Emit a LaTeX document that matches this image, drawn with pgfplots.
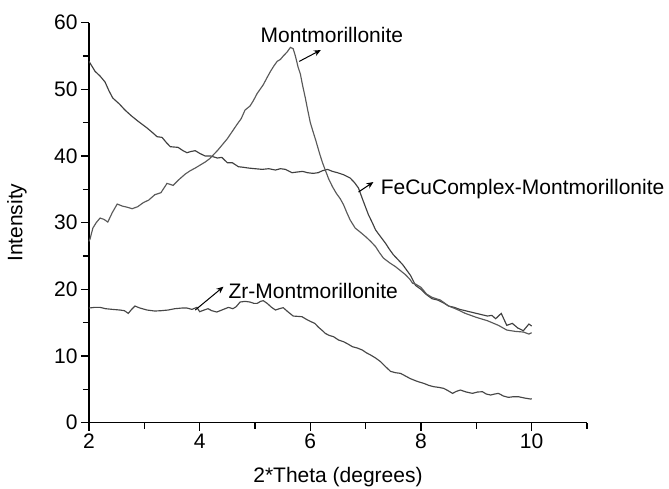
\documentclass[border=0pt]{standalone}
\usepackage{pgfplots}
\pgfplotsset{compat=1.18}
\usepackage{fontspec}
\setmainfont{Liberation Sans}
\usetikzlibrary{arrows.meta}

\newcommand{\chartfont}{\fontsize{21}{25}\selectfont}

\begin{document}
\begin{tikzpicture}
\useasboundingbox (-89pt,-65.3pt) rectangle (580pt,422.7pt);
\begin{axis}[
  at={(0,0)}, anchor=south west,
  width=498pt, height=400pt, scale only axis,
  xmin=2, xmax=11, ymin=0, ymax=60,
  axis x line*=bottom, axis y line*=left,
  axis line style={line width=1.3pt},
  xtick={2,4,6,8,10}, minor xtick={3,5,7,9,11},
  ytick={0,10,20,30,40,50,60}, minor ytick={5,15,25,35,45,55},
  tick align=outside,
  major tick length=8pt, minor tick length=6pt,
  every tick/.style={black, line width=1.2pt},
  tick label style={font=\chartfont},
  /pgf/number format/assume math mode=true,
  label style={font=\chartfont},
  xlabel={2*Theta (degrees)},
  ylabel={Intensity},
  xlabel style={at={(axis description cs:0.5,0)}, anchor=center, yshift=-54pt},
  ylabel style={at={(axis description cs:0,0.5)}, anchor=center, yshift=72pt},
  clip=false,
]
% FeCuComplex-Montmorillonite
\addplot[line width=1.15pt, color=black!75, no markers] coordinates {
(2.00,54.2) (2.11,52.7) (2.20,52.0) (2.29,51.1) (2.36,49.8) (2.43,48.7)
(2.55,47.8) (2.65,46.9) (2.77,46.0) (2.89,45.2) (3.05,44.2) (3.15,43.5)
(3.23,42.9) (3.32,42.8) (3.40,42.0) (3.47,41.4) (3.61,41.3) (3.70,40.8)
(3.77,40.5) (3.85,40.7) (3.92,40.8) (4.00,40.4) (4.10,40.0) (4.20,40.0)
(4.32,39.7) (4.40,39.8) (4.50,39.0) (4.59,39.0) (4.70,38.4) (4.80,38.3)
(4.88,38.2) (5.00,38.1) (5.13,38.0) (5.25,38.1) (5.37,37.9) (5.46,38.1)
(5.55,38.0) (5.67,37.5) (5.76,37.6) (5.86,37.7) (5.95,37.5) (6.05,37.4)
(6.14,37.5) (6.22,37.8) (6.31,38.0) (6.40,37.7) (6.49,37.5) (6.60,37.2)
(6.72,36.7) (6.80,36.0) (6.87,35.2) (6.94,33.6) (7.05,31.2) (7.12,30.0)
(7.18,28.9) (7.27,27.9) (7.36,26.9) (7.43,26.0) (7.50,25.2) (7.58,24.5)
(7.67,23.7) (7.74,22.9) (7.81,22.1) (7.90,20.6) (8.00,20.0) (8.10,19.2)
(8.20,18.6) (8.30,18.4) (8.40,18.0) (8.50,17.5) (8.60,17.3) (8.70,17.0)
(8.80,16.8) (8.90,16.6) (9.00,16.4) (9.10,16.2) (9.20,16.0) (9.28,16.1)
(9.35,15.6) (9.45,16.4) (9.55,14.6) (9.65,14.9) (9.75,14.2) (9.85,13.8)
(9.95,14.8) (10.00,14.5)
};
% Montmorillonite
\addplot[line width=1.15pt, color=black!65, no markers] coordinates {
(2.00,27.2) (2.02,27.6) (2.07,29.2) (2.13,30.0) (2.20,30.7) (2.27,30.5)
(2.34,30.1) (2.42,31.5) (2.51,32.8) (2.60,32.5) (2.70,32.3) (2.78,32.1)
(2.88,32.4) (2.98,33.0) (3.08,33.4) (3.19,34.2) (3.30,34.5) (3.41,35.9)
(3.52,35.6) (3.63,36.5) (3.74,37.3) (3.83,37.8) (3.92,38.2) (4.00,38.6)
(4.10,39.1) (4.18,39.6) (4.25,40.2) (4.33,40.9) (4.41,41.7) (4.50,42.6)
(4.59,43.7) (4.68,44.8) (4.75,45.6) (4.82,46.9) (4.91,47.5) (4.97,48.3)
(5.04,49.4) (5.10,50.1) (5.15,50.7) (5.22,51.8) (5.28,52.7) (5.34,53.5)
(5.40,54.2) (5.46,54.5) (5.51,55.0) (5.58,55.6) (5.64,56.3) (5.69,56.1)
(5.73,55.0) (5.78,53.3) (5.82,52.3) (5.86,50.6) (5.91,48.7) (5.95,47.0)
(6.00,45.0) (6.04,43.9) (6.10,42.3) (6.17,40.3) (6.22,39.0) (6.27,37.9)
(6.33,36.6) (6.40,35.4) (6.47,34.4) (6.54,33.6) (6.60,32.7) (6.66,31.5)
(6.72,30.4) (6.81,29.2) (6.90,28.6) (7.00,27.9) (7.09,27.2) (7.18,26.4)
(7.25,25.5) (7.32,24.7) (7.43,24.0) (7.54,23.4) (7.63,22.8) (7.72,22.2)
(7.80,21.5) (7.85,20.9) (7.90,20.8) (8.00,20.3) (8.10,19.3) (8.20,18.8)
(8.35,18.4) (8.50,17.5) (8.65,17.0) (8.80,16.4) (9.00,15.8) (9.20,15.3)
(9.40,14.6) (9.55,13.9) (9.70,13.7) (9.85,13.6) (9.95,13.3) (10.00,13.5)
};
% Zr-Montmorillonite
\addplot[line width=1.15pt, color=black!72, no markers] coordinates {
(2.00,17.2) (2.10,17.3) (2.20,17.3) (2.30,17.1) (2.42,17.0) (2.56,16.9)
(2.64,16.8) (2.71,16.4) (2.77,17.0) (2.83,17.5) (2.92,17.2) (3.05,16.9)
(3.19,16.75) (3.30,16.8) (3.43,16.9) (3.55,17.1) (3.68,17.2) (3.77,17.2)
(3.86,17.0) (3.95,17.3) (4.00,16.65) (4.08,16.9) (4.15,17.1) (4.22,16.8)
(4.31,16.6) (4.43,17.0) (4.52,17.3) (4.60,17.1) (4.66,17.4) (4.73,18.1)
(4.82,18.2) (4.91,18.1) (4.98,17.9) (5.04,17.9) (5.10,18.2) (5.15,18.3)
(5.22,17.9) (5.30,17.3) (5.37,16.9) (5.44,17.1) (5.51,17.25) (5.60,16.6)
(5.69,16.0) (5.77,15.95) (5.85,15.9) (5.93,15.5) (6.00,15.2) (6.08,14.9)
(6.15,14.3) (6.22,13.8) (6.27,13.4) (6.34,13.1) (6.42,12.9) (6.51,12.4)
(6.60,12.15) (6.68,11.8) (6.76,11.4) (6.85,11.2) (6.94,10.9) (7.01,10.5)
(7.09,10.15) (7.18,9.7) (7.27,9.15) (7.36,8.4) (7.45,7.7) (7.54,7.5)
(7.63,7.4) (7.72,7.0) (7.81,6.6) (7.90,6.3) (7.95,6.15) (8.05,5.9)
(8.14,5.6) (8.23,5.4) (8.32,5.3) (8.41,5.15) (8.49,4.8) (8.57,4.4)
(8.64,4.7) (8.71,4.9) (8.82,4.6) (8.93,4.4) (9.02,4.6) (9.11,4.65)
(9.18,4.3) (9.26,4.15) (9.33,4.3) (9.40,4.4) (9.49,4.0) (9.58,3.8)
(9.67,3.9) (9.76,3.9) (9.87,3.7) (9.98,3.55) (10.00,3.6)
};
% annotations
\draw[line width=1pt, -{Stealth[length=7pt,width=6pt]}] (5.80,54.2) -- (6.19,55.9);
\node[anchor=base west, font=\chartfont, inner sep=0pt] at (5.10,57.0) {Montmorillonite};
\draw[line width=1pt, -{Stealth[length=7pt,width=6pt]}] (6.87,34.6) -- (7.14,36.1);
\node[anchor=base west, font=\chartfont, inner sep=0pt] at (7.27,34.3) {FeCuComplex-Montmorillonite};
\draw[line width=1pt, -{Stealth[length=7pt,width=6pt]}] (3.92,16.9) -- (4.43,20.4);
\node[anchor=base west, font=\chartfont, inner sep=0pt] at (4.52,18.6) {Zr-Montmorillonite};
\end{axis}
\end{tikzpicture}
\end{document}
